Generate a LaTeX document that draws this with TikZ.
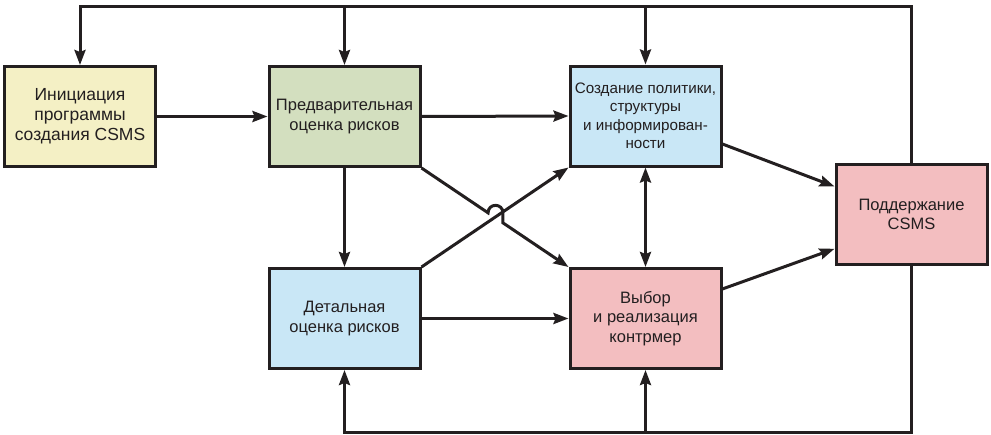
\documentclass[tikz,border=0pt]{standalone}
\usepackage{fontspec}
\setmainfont{Liberation Sans}
\usetikzlibrary{arrows.meta,calc}
\definecolor{lineclr}{RGB}{35,31,32}
\definecolor{initclr}{RGB}{244,240,197}
\definecolor{prelimclr}{RGB}{211,223,191}
\definecolor{blueclr}{RGB}{201,231,246}
\definecolor{pinkclr}{RGB}{243,190,192}
\tikzset{
	box/.style={draw=lineclr,
		line width=3pt,
		minimum width=151pt,
		minimum height=100pt,
		inner sep=2pt,
		align=center,
		text=lineclr,
		font=\fontsize{16.5}{19.5}\selectfont},
	link/.style={draw=lineclr, line width=3pt},
	arr/.style={link, -{Stealth[length=15pt,width=11pt,inset=2pt]}},
	twoway/.style={link, {Stealth[length=15pt,width=11pt,inset=2pt]}-{Stealth[length=15pt,width=11pt,inset=2pt]}}
}
\begin{document}
\begin{tikzpicture}[x=1pt,y=-1pt]
	\useasboundingbox (0,0) rectangle (991,434);
	\node[box, fill=initclr, font=\fontsize{17.5}{20}\selectfont] (init) at (80,116.5) {Инициация\\программы\\создания CSMS};
	\node[box, fill=prelimclr] (prelim) at (344.5,116.5) {Предварительная\\оценка рисков};
	\node[box, fill=blueclr, font=\fontsize{15.2}{18.5}\selectfont] (policy) at (645.5,116) {Создание политики,\\структуры\\и информирован-\\ности};
	\node[box, fill=pinkclr] (maint) at (911.5,214.5) {Поддержание\\CSMS};
	\node[box, fill=blueclr] (detail) at (344.5,318.5) {Детальная\\оценка рисков};
	\node[box, fill=pinkclr] (select) at (645.5,318.5) {Выбор\\и реализация\\контрмер};
	\coordinate (top) at (0,6);
	\coordinate (bot) at (0,432);
	% feedback loops
	\draw[arr] (maint.north) -- (maint.north |- top) -- (init.north |- top) -- (init.north);
	\draw[arr] (prelim.north |- top) -- (prelim.north);
	\draw[arr] (policy.north |- top) -- (policy.north);
	\draw[arr] (maint.south) -- (maint.south |- bot) -- (detail.south |- bot) -- (detail.south);
	\draw[arr] (select.south |- bot) -- (select.south);
	% main flow
	\draw[arr] (init.east) -- (prelim.west);
	\draw[arr] (prelim.east) -- (policy.west);
	\draw[arr] (prelim.south) -- (detail.north);
	\draw[arr] (detail.east) -- (select.west);
	\draw[arr] (detail.north east) -- (policy.south west);
	\coordinate (hopA) at ($(prelim.south east)!0.453!(select.north west)$);
	\coordinate (hopB) at ($(prelim.south east)!0.554!(select.north west)$);
	\draw[arr] (prelim.south east) -- (hopA) .. controls +(0,-10) and +(0,-10) .. (hopB |- hopA) -- (hopB) -- (select.north west);
	\draw[twoway] (policy.south) -- (select.north);
	\draw[arr] (policy.-20.6) -- (maint.160.5);
	\draw[arr] (select.21.6) -- (maint.204);
\end{tikzpicture}
\end{document}
